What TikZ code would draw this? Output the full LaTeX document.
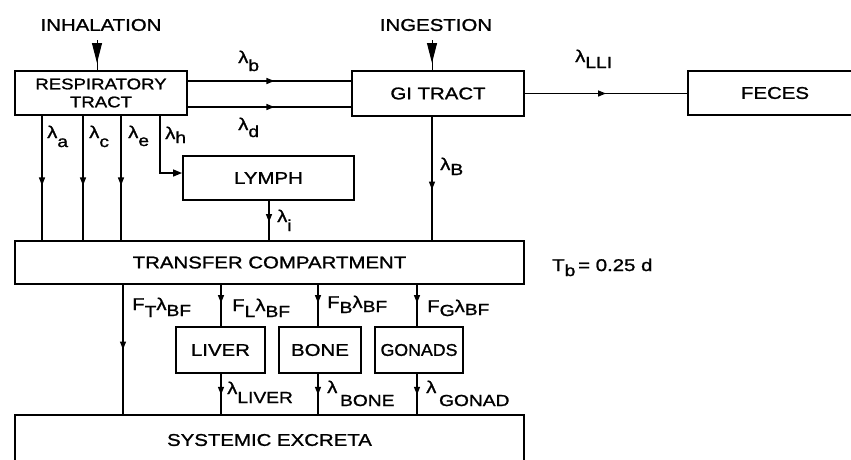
\documentclass[tikz,border=0pt]{standalone}
\usepackage{fontspec}
\setmainfont{Liberation Sans}[FakeStretch=1.2,FakeBold=1.2]
\usetikzlibrary{arrows.meta,decorations.markings,calc}
\newcommand\lsb[2][7pt]{\raisebox{-#1}{\fontsize{16}{16}\selectfont #2}}
\tikzset{
  box/.style={draw, line width=1.9pt, rectangle, inner sep=0pt, font=\fontsize{17}{19}\selectfont},
  conn/.style={line width=1.4pt},
  midarr/.style={postaction={decorate,decoration={markings,mark=at position #1 with {\arrow{Triangle[length=8pt,width=6pt]}}}}},
  bigarr/.style={postaction={decorate,decoration={markings,mark=at position #1 with {\arrow{Triangle[length=20pt,width=10pt]}}}}},
  lab/.style={anchor=base west, inner sep=0pt, font=\fontsize{17}{19}\selectfont},
  ttl/.style={inner sep=0pt, font=\fontsize{17}{19}\selectfont},
}
\begin{document}
\begin{tikzpicture}[x=1pt,y=-1pt]
\useasboundingbox (0,0) rectangle (851,459);
\clip (0,0) rectangle (851,459);
% boxes
\node[box, minimum width=172, minimum height=44, align=center, font=\fontsize{15.5}{18}\selectfont] (resp) at (101,93) {RESPIRATORY\\TRACT};
\node[box, minimum width=172, minimum height=45] (gi) at (438,93.5) {GI TRACT};
\node[box, minimum width=174, minimum height=44] (feces) at (775,93) {FECES};
\node[box, minimum width=171, minimum height=44] (lymph) at (268.5,178) {LYMPH};
\node[box, minimum width=509, minimum height=43] (tc) at (269.5,262.5) {TRANSFER COMPARTMENT};
\node[box, minimum width=89, minimum height=46] (liver) at (220.5,350) {LIVER};
\node[box, minimum width=82, minimum height=46] (bone) at (320,350) {BONE};
\node[box, minimum width=88, minimum height=46] (gonads) at (419,350) {\scalebox{0.87}[1]{GONADS}};
\node[box, minimum width=509, minimum height=50] (sys) at (269.5,440) {SYSTEMIC EXCRETA};
% titles
\node[ttl] (inh) at (101,25) {INHALATION};
\node[ttl] (ing) at (436,25) {INGESTION};
\node[lab] (tb) at (552,271) {T\lsb[5pt]{b}\,= 0.25 d};
% coordinates
\coordinate (inhA) at (97,40);
\coordinate (ingA) at (432,40);
\coordinate (yb) at (0,81);
\coordinate (yd) at (0,107);
\coordinate (xa) at (42,0);
\coordinate (xc) at (83,0);
\coordinate (xe) at (121,0);
\coordinate (xh) at (160,173);
\coordinate (xi) at (269,0);
\coordinate (xB) at (432,0);
\coordinate (xT) at (123,0);
\coordinate (xL) at (221,0);
\coordinate (xBo) at (318,0);
\coordinate (xG) at (417,0);
% intake arrows
\draw[line width=1pt, bigarr=23pt] (inhA) -- (resp.north -| inhA);
\draw[line width=1pt, bigarr=23pt] (ingA) -- (gi.north -| ingA);
% upper connectors
\draw[conn, midarr=0.53] (resp.east |- yb) -- (gi.west |- yb);
\draw[conn, midarr=0.53] (resp.east |- yd) -- (gi.west |- yd);
\draw[conn, midarr=0.5] (gi.east) -- (feces.west |- gi.east);
\draw[conn, midarr=0.56] (resp.south -| xa) -- (tc.north -| xa);
\draw[conn, midarr=0.56] (resp.south -| xc) -- (tc.north -| xc);
\draw[conn, midarr=0.56] (resp.south -| xe) -- (tc.north -| xe);
\draw[conn, -{Triangle[length=9pt,width=7pt]}] (resp.south -| xh) -- (xh) -- (lymph.west |- xh);
\draw[conn, midarr=0.54] (lymph.south -| xi) -- (tc.north -| xi);
\draw[conn, midarr=0.59] (gi.south -| xB) -- (tc.north -| xB);
% lower connectors
\draw[conn, midarr=0.5] (tc.south -| xT) -- (sys.north -| xT);
\draw[conn, midarr=0.44] (tc.south -| xL) -- (liver.north -| xL);
\draw[conn, midarr=0.44] (tc.south -| xBo) -- (bone.north -| xBo);
\draw[conn, midarr=0.44] (tc.south -| xG) -- (gonads.north -| xG);
\draw[conn, midarr=0.52] (liver.south -| xL) -- (sys.north -| xL);
\draw[conn, midarr=0.52] (bone.south -| xBo) -- (sys.north -| xBo);
\draw[conn, midarr=0.52] (gonads.south -| xG) -- (sys.north -| xG);
% labels
\node[lab] (lb) at (238,63) {λ\lsb[8pt]{b}};
\node[lab] (ld) at (238,130) {λ\lsb[7pt]{d}};
\node[lab] (llli) at (575,62) {λ\lsb[6pt]{LLI}};
\node[lab] (la) at (47,138) {λ\lsb[9pt]{a}};
\node[lab] (lc) at (89,138) {λ\lsb[9pt]{c}};
\node[lab] (le) at (128,138) {λ\lsb[8pt]{e}};
\node[lab] (lh) at (165,139) {λ\lsb[4pt]{h}};
\node[lab] (li) at (277,222) {λ\lsb[9pt]{i}};
\node[lab] (lB) at (440,170) {λ\lsb[5pt]{B}};
\node[lab] (lft) at (132,310) {F\lsb[7pt]{T}λ\lsb[6pt]{BF}};
\node[lab] (lfl) at (232,311) {F\lsb[6pt]{L}λ\lsb[6pt]{BF}};
\node[lab] (lfb) at (327,308) {F\lsb[5pt]{B}λ\lsb[4pt]{BF}};
\node[lab] (lfg) at (427,312) {F\lsb[4pt]{G}λ\lsb[3pt]{BF}};
\node[lab] (llv) at (227,394) {λ\lsb[9pt]{LIVER}};
\node[lab] (lbo) at (327,393) {λ\lsb[13pt]{\,BONE}};
\node[lab] (lgo) at (426,393) {λ\lsb[13pt]{\,GONAD}};
\end{tikzpicture}
\end{document}
